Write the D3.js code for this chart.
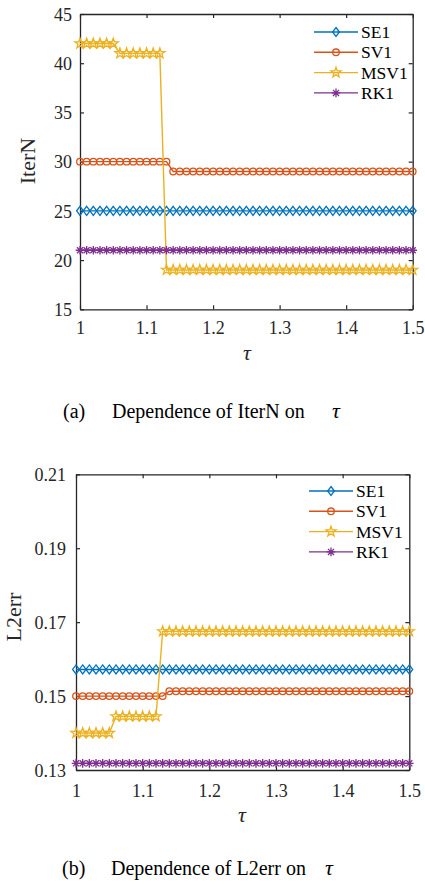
<!DOCTYPE html>
<html>
<head>
<meta charset="utf-8">
<script src="https://cdn.jsdelivr.net/npm/d3@7/dist/d3.min.js"></script>
<style>
  body { margin: 0; background: #fff; }
  svg { display: block; }
</style>
</head>
<body>
<svg width="425" height="884"></svg>
<script>
// tau values (x axis)
var tau = [1.00, 1.01, 1.02, 1.03, 1.04, 1.05, 1.06, 1.07, 1.08, 1.09,
           1.10, 1.11, 1.12, 1.13, 1.14, 1.15, 1.16, 1.17, 1.18, 1.19,
           1.20, 1.21, 1.22, 1.23, 1.24, 1.25, 1.26, 1.27, 1.28, 1.29,
           1.30, 1.31, 1.32, 1.33, 1.34, 1.35, 1.36, 1.37, 1.38, 1.39,
           1.40, 1.41, 1.42, 1.43, 1.44, 1.45, 1.46, 1.47, 1.48, 1.49, 1.50];

var seriesNames = ["SE1", "SV1", "MSV1", "RK1"];
var seriesColors = ["#0072BD", "#D95319", "#EDB120", "#7E2F8E"];
var seriesMarkers = ["diamond", "circle", "star", "asterisk"];

// (a) IterN
var iterSE1 = [25, 25, 25, 25, 25, 25, 25, 25, 25, 25,
               25, 25, 25, 25, 25, 25, 25, 25, 25, 25,
               25, 25, 25, 25, 25, 25, 25, 25, 25, 25,
               25, 25, 25, 25, 25, 25, 25, 25, 25, 25,
               25, 25, 25, 25, 25, 25, 25, 25, 25, 25, 25];
var iterSV1 = [30, 30, 30, 30, 30, 30, 30, 30, 30, 30,
               30, 30, 30, 30, 29, 29, 29, 29, 29, 29,
               29, 29, 29, 29, 29, 29, 29, 29, 29, 29,
               29, 29, 29, 29, 29, 29, 29, 29, 29, 29,
               29, 29, 29, 29, 29, 29, 29, 29, 29, 29, 29];
var iterMSV1 = [42, 42, 42, 42, 42, 42, 41, 41, 41, 41,
                41, 41, 41, 19, 19, 19, 19, 19, 19, 19,
                19, 19, 19, 19, 19, 19, 19, 19, 19, 19,
                19, 19, 19, 19, 19, 19, 19, 19, 19, 19,
                19, 19, 19, 19, 19, 19, 19, 19, 19, 19, 19];
var iterRK1 = [21, 21, 21, 21, 21, 21, 21, 21, 21, 21,
               21, 21, 21, 21, 21, 21, 21, 21, 21, 21,
               21, 21, 21, 21, 21, 21, 21, 21, 21, 21,
               21, 21, 21, 21, 21, 21, 21, 21, 21, 21,
               21, 21, 21, 21, 21, 21, 21, 21, 21, 21, 21];

// (b) L2err
var errSE1 = [0.1572, 0.1572, 0.1572, 0.1572, 0.1572, 0.1572, 0.1572, 0.1572, 0.1572, 0.1572,
              0.1572, 0.1572, 0.1572, 0.1572, 0.1572, 0.1572, 0.1572, 0.1572, 0.1572, 0.1572,
              0.1572, 0.1572, 0.1572, 0.1572, 0.1572, 0.1572, 0.1572, 0.1572, 0.1572, 0.1572,
              0.1572, 0.1572, 0.1572, 0.1572, 0.1572, 0.1572, 0.1572, 0.1572, 0.1572, 0.1572,
              0.1572, 0.1572, 0.1572, 0.1572, 0.1572, 0.1572, 0.1572, 0.1572, 0.1572, 0.1572, 0.1572];
var errSV1 = [0.1500, 0.1500, 0.1500, 0.1500, 0.1500, 0.1500, 0.1500, 0.1500, 0.1500, 0.1500,
              0.1500, 0.1500, 0.1500, 0.1500, 0.1513, 0.1513, 0.1513, 0.1513, 0.1513, 0.1513,
              0.1513, 0.1513, 0.1513, 0.1513, 0.1513, 0.1513, 0.1513, 0.1513, 0.1513, 0.1513,
              0.1513, 0.1513, 0.1513, 0.1513, 0.1513, 0.1513, 0.1513, 0.1513, 0.1513, 0.1513,
              0.1513, 0.1513, 0.1513, 0.1513, 0.1513, 0.1513, 0.1513, 0.1513, 0.1513, 0.1513, 0.1513];
var errMSV1 = [0.1400, 0.1400, 0.1400, 0.1400, 0.1400, 0.1400, 0.1445, 0.1445, 0.1445, 0.1445,
               0.1445, 0.1445, 0.1445, 0.1675, 0.1675, 0.1675, 0.1675, 0.1675, 0.1675, 0.1675,
               0.1675, 0.1675, 0.1675, 0.1675, 0.1675, 0.1675, 0.1675, 0.1675, 0.1675, 0.1675,
               0.1675, 0.1675, 0.1675, 0.1675, 0.1675, 0.1675, 0.1675, 0.1675, 0.1675, 0.1675,
               0.1675, 0.1675, 0.1675, 0.1675, 0.1675, 0.1675, 0.1675, 0.1675, 0.1675, 0.1675, 0.1675];
var errRK1 = [0.1318, 0.1318, 0.1318, 0.1318, 0.1318, 0.1318, 0.1318, 0.1318, 0.1318, 0.1318,
              0.1318, 0.1318, 0.1318, 0.1318, 0.1318, 0.1318, 0.1318, 0.1318, 0.1318, 0.1318,
              0.1318, 0.1318, 0.1318, 0.1318, 0.1318, 0.1318, 0.1318, 0.1318, 0.1318, 0.1318,
              0.1318, 0.1318, 0.1318, 0.1318, 0.1318, 0.1318, 0.1318, 0.1318, 0.1318, 0.1318,
              0.1318, 0.1318, 0.1318, 0.1318, 0.1318, 0.1318, 0.1318, 0.1318, 0.1318, 0.1318, 0.1318];

var xTicks = [1, 1.1, 1.2, 1.3, 1.4, 1.5];
var xTickLabels = ["1", "1.1", "1.2", "1.3", "1.4", "1.5"];
var iterTicks = [15, 20, 25, 30, 35, 40, 45];
var errTicks = [0.13, 0.15, 0.17, 0.19, 0.21];
var errTickLabels = ["0.13", "0.15", "0.17", "0.19", "0.21"];

var serif = "'Liberation Serif', 'Times New Roman', serif";
var svg = d3.select("svg").attr("font-family", serif);

function markerPath(type) {
    if (type === "diamond") {
        return "M0,-4.5L3.4,0L0,4.5L-3.4,0Z";
    }
    if (type === "star") {
        var pts = [];
        for (var i = 0; i < 10; i++) {
            var r = (i % 2 === 0) ? 5.3 : 2.1;
            var a = -Math.PI / 2 + i * Math.PI / 5;
            pts.push([r * Math.cos(a), r * Math.sin(a)]);
        }
        return "M" + pts.join("L") + "Z";
    }
    if (type === "asterisk") {
        var p = "";
        for (var k = 0; k < 4; k++) {
            var ang = k * Math.PI / 4;
            var dx = 4.3 * Math.cos(ang), dy = 4.3 * Math.sin(ang);
            p += "M" + (-dx) + "," + (-dy) + "L" + dx + "," + dy;
        }
        return p;
    }
    return null;
}

function drawMarker(g, type, color, x, y) {
    if (type === "circle") {
        g.append("circle")
            .attr("cx", x).attr("cy", y).attr("r", 3.3)
            .attr("fill", "none").attr("stroke", color).attr("stroke-width", 1.3);
    } else {
        g.append("path")
            .attr("d", markerPath(type))
            .attr("transform", "translate(" + x + "," + y + ")")
            .attr("fill", "none").attr("stroke", color).attr("stroke-width", 1.3);
    }
}

function styleAxis(sel) {
    sel.attr("font-family", serif).attr("font-size", 18);
    sel.selectAll("text").attr("fill", "#262626").attr("dy", null);
    sel.selectAll("line").attr("stroke", "#262626").attr("stroke-width", 1.2);
    sel.select(".domain").attr("stroke", "#262626").attr("stroke-width", 1.3);
}

function drawPanel(cfg) {
    var x = d3.scaleLinear().domain([1, 1.5]).range([cfg.left, cfg.right]);
    var y = d3.scaleLinear().domain(cfg.yDomain).range([cfg.bottom, cfg.top]);
    var g = svg.append("g");

    // axes with inward ticks on all four sides
    g.append("g")
        .attr("transform", "translate(0," + cfg.bottom + ")")
        .call(d3.axisBottom(x).tickValues(xTicks).tickSizeInner(-4).tickSizeOuter(0)
            .tickPadding(cfg.xPad).tickFormat(function(d, i) { return xTickLabels[i]; }))
        .call(styleAxis);
    g.append("g")
        .attr("transform", "translate(0," + cfg.top + ")")
        .call(d3.axisTop(x).tickValues(xTicks).tickSizeInner(-4).tickSizeOuter(0).tickFormat(""))
        .call(styleAxis);
    g.append("g")
        .attr("transform", "translate(" + cfg.left + ",0)")
        .call(d3.axisLeft(y).tickValues(cfg.yTicks).tickSizeInner(-4).tickSizeOuter(0)
            .tickPadding(cfg.yPad).tickFormat(function(d, i) { return cfg.yTickLabels[i]; }))
        .call(styleAxis)
        .selectAll("text").attr("dy", "0.35em");
    g.append("g")
        .attr("transform", "translate(" + cfg.right + ",0)")
        .call(d3.axisRight(y).tickValues(cfg.yTicks).tickSizeInner(-4).tickSizeOuter(0).tickFormat(""))
        .call(styleAxis);

    var line = d3.line()
        .x(function(d, i) { return x(tau[i]); })
        .y(function(d) { return y(d); });

    cfg.series.forEach(function(vals, s) {
        var sg = g.append("g");
        sg.append("path")
            .attr("d", line(vals))
            .attr("fill", "none")
            .attr("stroke", seriesColors[s])
            .attr("stroke-width", 1.4);
        vals.forEach(function(v, i) {
            drawMarker(sg, seriesMarkers[s], seriesColors[s], x(tau[i]), y(v));
        });
    });

    // legend
    seriesNames.forEach(function(name, s) {
        var ly = cfg.legendY + s * 20.3;
        g.append("line")
            .attr("x1", cfg.legendX).attr("x2", cfg.legendX + 44)
            .attr("y1", ly).attr("y2", ly)
            .attr("stroke", seriesColors[s]).attr("stroke-width", 1.4);
        drawMarker(g, seriesMarkers[s], seriesColors[s], cfg.legendX + 22, ly);
        g.append("text")
            .attr("x", cfg.legendX + 47).attr("y", ly + 6)
            .attr("font-size", 17.5).attr("fill", "#000")
            .text(name);
    });

    // axis labels
    g.append("text")
        .attr("transform", "translate(" + cfg.yLabelX + "," + cfg.yLabelY + ") rotate(-90)")
        .attr("text-anchor", "middle")
        .attr("font-size", 22).attr("fill", "#262626")
        .text(cfg.yLabel);
    g.append("text")
        .attr("x", cfg.xLabelX).attr("y", cfg.xLabelY)
        .attr("text-anchor", "middle")
        .attr("font-size", 22).attr("font-style", "italic").attr("fill", "#262626")
        .text("τ");

    // caption
    g.append("text").attr("x", cfg.capX).attr("y", cfg.capY)
        .attr("font-size", 20).text(cfg.capTag);
    g.append("text").attr("x", cfg.capX + 49).attr("y", cfg.capY)
        .attr("font-size", 20).text(cfg.capText);
    g.append("text").attr("x", cfg.capTauX).attr("y", cfg.capY)
        .attr("font-size", 22).attr("font-style", "italic").text("τ");
}

drawPanel({
    left: 80, right: 412.7, top: 14, bottom: 309.3,
    yDomain: [15, 45], yTicks: iterTicks,
    yTickLabels: iterTicks.map(String),
    xPad: 25, yPad: 8,
    series: [iterSE1, iterSV1, iterMSV1, iterRK1],
    legendX: 314, legendY: 32,
    yLabel: "IterN", yLabelX: 35, yLabelY: 161,
    xLabelX: 247, xLabelY: 360,
    capX: 63, capY: 418, capTag: "(a)", capText: "Dependence of IterN on", capTauX: 332
});

drawPanel({
    left: 76, right: 409.3, top: 474.3, bottom: 770,
    yDomain: [0.13, 0.21], yTicks: errTicks,
    yTickLabels: errTickLabels,
    xPad: 27, yPad: 10,
    series: [errSE1, errSV1, errMSV1, errRK1],
    legendX: 309, legendY: 491,
    yLabel: "L2err", yLabelX: 21, yLabelY: 617,
    xLabelX: 242, xLabelY: 822,
    capX: 62, capY: 875, capTag: "(b)", capText: "Dependence of L2err on", capTauX: 325
});
</script>
</body>
</html>
